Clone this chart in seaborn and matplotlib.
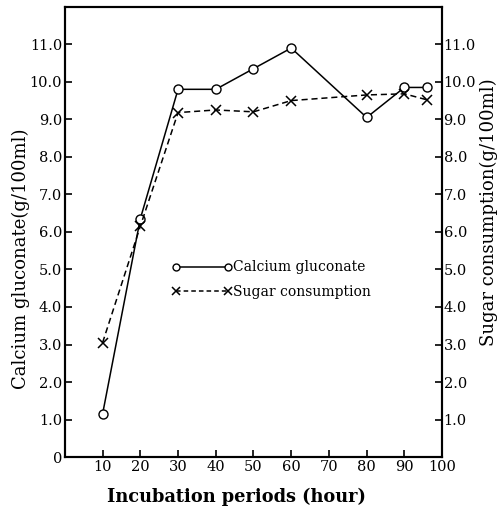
import numpy as np
import pandas as pd
import matplotlib
matplotlib.use("Agg")
import matplotlib.pyplot as plt
import seaborn as sns
from matplotlib.lines import Line2D

# data
hours = [10, 20, 30, 40, 50, 60, 80, 90, 96]
calcium_gluconate = [1.15, 6.35, 9.8, 9.8, 10.35, 10.9, 9.05, 9.85, 9.85]
sugar_consumption = [3.05, 6.15, 9.18, 9.25, 9.2, 9.5, 9.65, 9.68, 9.52]

x_ticks = [10, 20, 30, 40, 50, 60, 70, 80, 90, 100]
y_ticks_left = [0, 1, 2, 3, 4, 5, 6, 7, 8, 9, 10, 11]
y_ticks_right = [1, 2, 3, 4, 5, 6, 7, 8, 9, 10, 11]

sns.set_style("ticks", {"axes.edgecolor": "black", "text.color": "black",
                        "xtick.color": "black", "ytick.color": "black",
                        "axes.labelcolor": "black"})
plt.rcParams["font.family"] = ["DejaVu Serif"]

df = pd.DataFrame({"hour": hours, "ca": calcium_gluconate, "sugar": sugar_consumption})

fig = plt.figure(figsize=(4.99, 5.2), dpi=100)
ax = fig.add_axes([0.130, 0.121, 0.756, 0.866])

sns.lineplot(data=df, x="hour", y="ca", ax=ax, color="black", lw=1.1,
             marker="o", markersize=6.5, markerfacecolor="white",
             markeredgecolor="black", markeredgewidth=1.0)
sns.lineplot(data=df, x="hour", y="sugar", ax=ax, color="black", lw=1.1,
             linestyle=(0, (4, 2.5)), marker="x", markersize=6.5,
             markeredgecolor="black", markeredgewidth=1.1)

ax.set_xlim(0, 100)
ax.set_ylim(0, 12)
ax.set_xticks(x_ticks)
ax.set_xticklabels([str(t) for t in x_ticks])
ax.set_yticks(y_ticks_left)
ax.set_yticklabels(["0"] + [f"{t:.1f}" for t in y_ticks_left[1:]])
ax.tick_params(direction="in", length=5, width=1.2, labelsize=10.5, pad=2)
ax.set_xlabel("Incubation periods (hour)", fontsize=12.8, fontweight="bold")
ax.xaxis.set_label_coords(0.456, -0.069)
ax.set_ylabel("Calcium gluconate(g/100ml)", fontsize=13)
ax.yaxis.set_label_coords(-0.093, 0.44)
for s in ax.spines.values():
    s.set_linewidth(1.5)

ax2 = ax.twinx()
ax2.set_ylim(0, 12)
ax2.set_yticks(y_ticks_right)
ax2.set_yticklabels([f"{t:.1f}" for t in y_ticks_right])
ax2.tick_params(direction="in", length=5, width=1.2, labelsize=10.5, pad=1)
ax2.set_ylabel("Sugar consumption(g/100ml)", fontsize=13)
ax2.yaxis.set_label_coords(1.101, 0.544)
for s in ax2.spines.values():
    s.set_linewidth(1.5)

handles = [
    Line2D([], [], color="black", lw=1.1, marker="o", markersize=5,
           markerfacecolor="white", markeredgecolor="black"),
    Line2D([], [], color="black", lw=1.1, linestyle=(0, (3, 2)), marker="x",
           markersize=6, markeredgewidth=1.1),
]
ax.legend(handles, ["Calcium gluconate", "Sugar consumption"], numpoints=2,
          frameon=False, fontsize=10, loc="upper left",
          bbox_to_anchor=(0.27, 0.449), handlelength=4.3, handletextpad=0.1,
          labelspacing=0.75, borderaxespad=0)

fig.savefig("out.png", dpi=100)
